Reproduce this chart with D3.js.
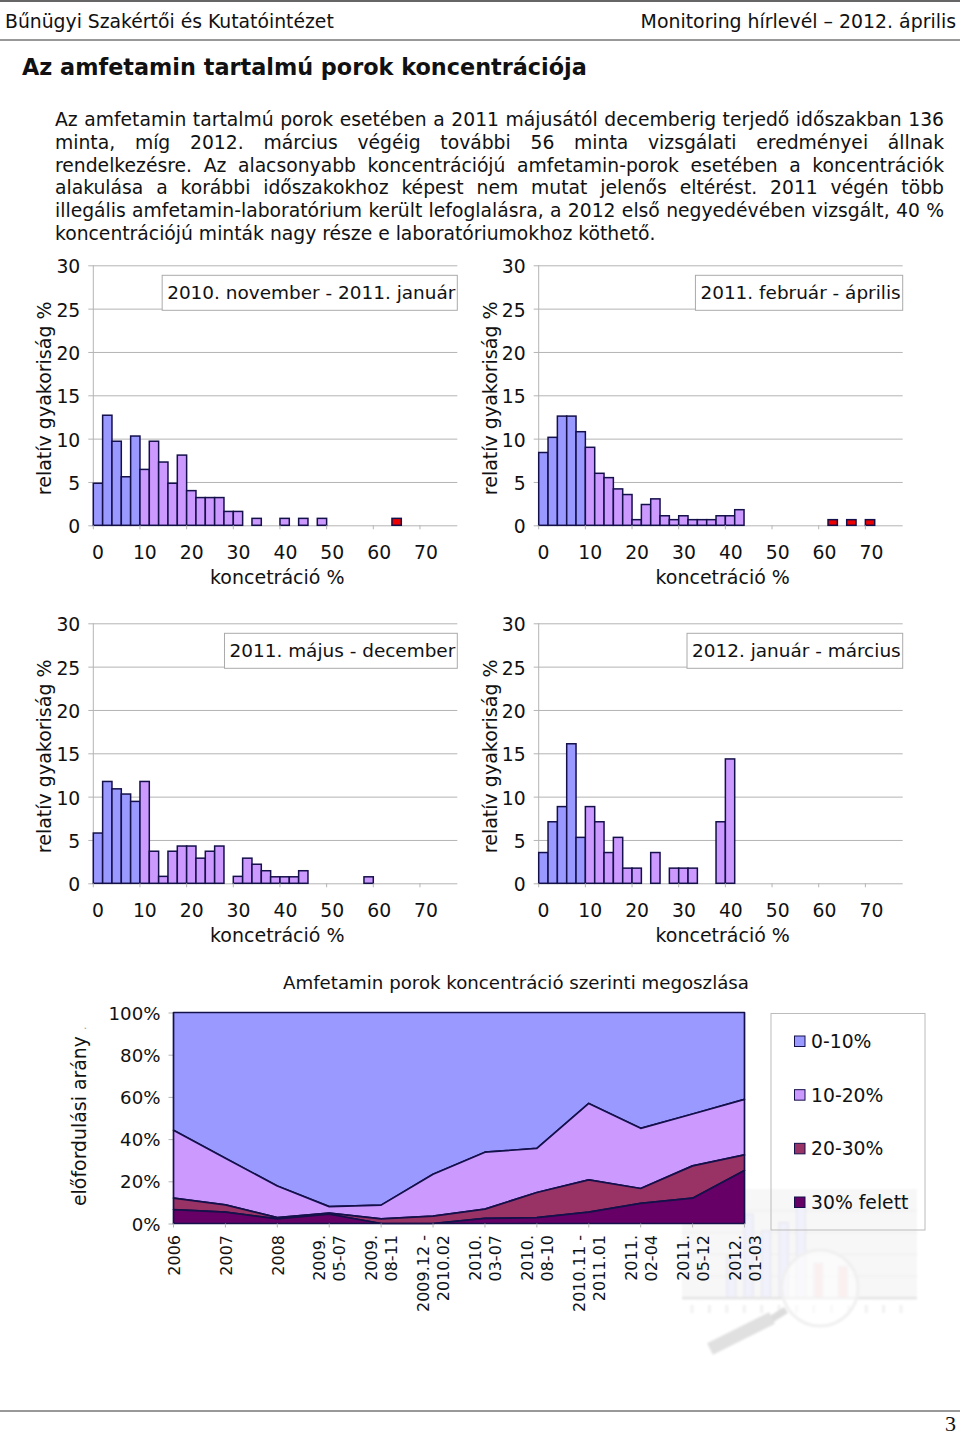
<!DOCTYPE html>
<html>
<head>
<meta charset="utf-8">
<script src="https://cdnjs.cloudflare.com/ajax/libs/d3/7.8.5/d3.min.js"></script>
<style>
  body { margin: 0; background: #fff; }
  svg { display: block; }
  text { font-family: "DejaVu Sans", Verdana, sans-serif; fill: #111; }
</style>
</head>
<body>
<svg id="page" width="960" height="1436">
  <defs><filter id="soft"><feGaussianBlur stdDeviation="0.8"></feGaussianBlur></filter></defs>
</svg>
<script>
var bodyLines = [
	'Az amfetamin tartalmú porok esetében a 2011 májusától decemberig terjedő időszakban 136',
	'minta, míg 2012. március végéig további 56 minta vizsgálati eredményei állnak',
	'rendelkezésre. Az alacsonyabb koncentrációjú amfetamin-porok esetében a koncentrációk',
	'alakulása a korábbi időszakokhoz képest nem mutat jelenős eltérést. 2011 végén több',
	'illegális amfetamin-laboratórium került lefoglalásra, a 2012 első negyedévében vizsgált, 40 %',
	'koncentrációjú minták nagy része e laboratóriumokhoz köthető.'
];

// histogram bins, each 2 units wide
var yTicks = [0, 5, 10, 15, 20, 25, 30];
var xTickLabels = [0, 10, 20, 30, 40, 50, 60, 70];

var hist2010 = [4.85, 12.7, 9.7, 5.6, 10.3, 6.45, 9.7, 7.3, 4.85, 8.1, 4.0, 3.2, 3.2, 3.2, 1.6, 1.6, 0, 0.8, 0, 0, 0.8, 0, 0.8, 0, 0.8, 0, 0, 0, 0, 0, 0, 0, 0.8, 0, 0, 0, 0, 0, 0];
var hist2011a = [8.4, 10.15, 12.6, 12.6, 10.8, 9.0, 6.0, 5.5, 4.2, 3.55, 0.65, 2.4, 3.05, 1.1, 0.65, 1.1, 0.65, 0.65, 0.65, 1.1, 1.1, 1.8, 0, 0, 0, 0, 0, 0, 0, 0, 0, 0.65, 0, 0.65, 0, 0.65, 0, 0, 0];
var hist2011b = [5.8, 11.75, 10.9, 10.3, 9.45, 11.75, 3.7, 0.8, 3.7, 4.3, 4.3, 2.9, 3.7, 4.3, 0, 0.8, 2.9, 2.2, 1.45, 0.75, 0.75, 0.75, 1.45, 0, 0, 0, 0, 0, 0, 0.75, 0, 0, 0, 0, 0, 0, 0, 0, 0];
var hist2012 = [3.55, 7.1, 8.85, 16.1, 5.3, 8.85, 7.1, 3.55, 5.3, 1.75, 1.75, 0, 3.55, 0, 1.75, 1.75, 1.75, 0, 0, 7.1, 14.35, 0, 0, 0, 0, 0, 0, 0, 0, 0, 0, 0, 0, 0, 0, 0, 0, 0, 0];

var histTitles = ['2010. november - 2011. január', '2011. február - április', '2011. május - december', '2012. január - március'];

// stacked area
var areaCategories = ['2006', '2007', '2008', '2009.|05-07', '2009.|08-11', '2009.12 -|2010.02', '2010.|03-07', '2010.|08-10', '2010.11 -|2011.01', '2011.|02-04', '2011.|05-12', '2012.|01-03'];
var over30 = [6.6, 5.4, 2.2, 4.4, 0, 0, 2.4, 2.8, 5.4, 9.5, 12, 25.1];
var from20to30 = [5.4, 3.4, 0.6, 0.5, 2.2, 3.5, 4.4, 11.9, 15.3, 7.1, 15.3, 7.4];
var from10to20 = [32.2, 22.1, 15, 3.1, 6.5, 19.8, 27, 20.9, 36.2, 28.5, 24.6, 26.3];
var from0to10 = [55.8, 69.1, 82.2, 92, 91.3, 76.7, 66.2, 64.4, 43.1, 54.9, 48.1, 41.2];
var areaTicks = [0, 20, 40, 60, 80, 100];
var legendLabels = ['0-10%', '10-20%', '20-30%', '30% felett'];

// faint picture behind the legend
var markPositions = [2, 3, 4, 5, 6, 7, 8.4];
var markValues = [9.6, 19.2, 15.4, 17.3, 21.2, 8, 7.3];

var BLUE = '#9999ff', PURPLE = '#cc99ff', WINE = '#993366', PLUM = '#660066', RED = '#ee0000', INK = '#14104a', GRID = '#b4b4b4';
var svg = d3.select('#page');

var drawWatermark = function() {
	var g = svg.append('g').attr('filter', 'url(#soft)');
	var x = d3.scaleLinear().domain([0, 12]).range([692, 901]);
	var y = d3.scaleLinear().domain([0, 25]).range([1298, 1189]);
	g.append('rect').attr('x', 682).attr('y', y(25)).attr('width', 235).attr('height', y(0) - y(25) + 2).attr('fill', '#f7f7f7');
	g.selectAll('line.grid').data([5, 10, 15, 20]).enter().append('line')
		.attr('x1', 682).attr('x2', 917).attr('y1', y).attr('y2', y).attr('stroke', '#ededed');
	g.selectAll('rect.bar').data(markPositions).enter().append('rect')
		.attr('x', function(d) { return x(d); })
		.attr('width', 9)
		.attr('y', function(d, i) { return y(markValues[i]); })
		.attr('height', function(d, i) { return y(0) - y(markValues[i]); })
		.attr('fill', function(d, i) { return i > 4 ? '#f6dede' : '#f1f1fb'; })
		.attr('stroke', '#e4e4ee');
	g.append('line').attr('x1', 682).attr('x2', 917).attr('y1', y(0)).attr('y2', y(0)).attr('stroke', '#e2e2e2').attr('stroke-width', 2);
	g.selectAll('line.tick').data(d3.range(13)).enter().append('line')
		.attr('x1', x).attr('x2', x).attr('y1', 1305).attr('y2', 1313).attr('stroke', '#f1f1f1').attr('stroke-width', 3);
	g.append('circle').attr('cx', 820).attr('cy', 1288).attr('r', 38)
		.attr('fill', '#fff').attr('fill-opacity', 0.55).attr('stroke', '#f0f0f0').attr('stroke-width', 3);
	g.append('line').attr('x1', 786).attr('y1', 1310).attr('x2', 770).attr('y2', 1320).attr('stroke', '#dcdcdc').attr('stroke-width', 7);
	g.append('line').attr('x1', 772).attr('y1', 1318).attr('x2', 710).attr('y2', 1349).attr('stroke', '#e0e0e0').attr('stroke-width', 13);
};

var drawHeader = function() {
	[1, 40, 1411].forEach(function(y, i) {
		svg.append('line').attr('x1', 0).attr('x2', 960).attr('y1', y).attr('y2', y)
			.attr('stroke', '#333').attr('stroke-width', i === 0 ? 1.5 : 1);
	});
	svg.append('text').attr('x', 5).attr('y', 28).attr('font-size', 18.8).text('Bűnügyi Szakértői és Kutatóintézet');
	svg.append('text').attr('x', 956).attr('y', 28).attr('font-size', 18.9).attr('text-anchor', 'end').text('Monitoring hírlevél – 2012. április');
	svg.append('text').attr('x', 22).attr('y', 75).attr('font-size', 22.35).attr('font-weight', 'bold').text('Az amfetamin tartalmú porok koncentrációja');
	svg.append('text').attr('x', 956).attr('y', 1431).attr('font-size', 22).attr('text-anchor', 'end')
		.style('font-family', '"Liberation Serif", serif').text('3');

	// justified paragraph: spread each line with word spacing
	bodyLines.forEach(function(line, i) {
		var t = svg.append('text').attr('x', 55).attr('y', 126 + i * 22.8).attr('font-size', 18.75).text(line);
		if (i < bodyLines.length - 1) {
			var gaps = line.split(' ').length - 1;
			t.attr('word-spacing', (889 - t.node().getComputedTextLength()) / gaps);
		}
	});
};

var drawHistogram = function(values, title, left, y0) {
	var right = left + 364;
	var g = svg.append('g');
	var x = d3.scaleBand().domain(d3.range(values.length)).range([left, right]);
	var y = d3.scaleLinear().domain([0, 30]).range([y0, y0 - 260]);

	var yAxis = d3.axisLeft(y).tickValues(yTicks).tickSize(-(right - left)).tickPadding(13);
	var ya = g.append('g').attr('transform', 'translate(' + left + ',0)').call(yAxis);
	ya.select('.domain').remove();
	ya.selectAll('.tick line').attr('stroke', GRID).attr('x1', -5);
	ya.selectAll('.tick text').attr('font-size', 18.8).attr('y', 1.5).attr('font-family', null).attr('fill', '#111');
	g.append('line').attr('x1', left).attr('x2', left).attr('y1', y(30)).attr('y2', y(0)).attr('stroke', GRID);

	var bins = values.map(function(v, i) { return { bin: i, value: v }; }).filter(function(d) { return d.value > 0; });
	g.selectAll('rect.bar').data(bins).enter().append('rect')
		.attr('class', 'bar')
		.attr('x', function(d) { return x(d.bin); })
		.attr('width', x.bandwidth())
		.attr('y', function(d) { return y(d.value); })
		.attr('height', function(d) { return y(0) - y(d.value); })
		.attr('fill', function(d) { return d.bin < 5 ? BLUE : (d.bin < 30 ? PURPLE : RED); })
		.attr('stroke', INK).attr('stroke-width', 1.5);

	// labels sit on the bin centre, tick marks on the bin edge
	var xa = g.append('g');
	xa.selectAll('line').data(xTickLabels).enter().append('line')
		.attr('x1', function(d) { return x(d / 2); }).attr('x2', function(d) { return x(d / 2); })
		.attr('y1', y(0)).attr('y2', y(0) + 4).attr('stroke', GRID);
	xa.selectAll('text').data(xTickLabels).enter().append('text')
		.attr('x', function(d) { return x(d / 2) + x.bandwidth() / 2 + d * 0.02; })
		.attr('y', y(0) + 34).attr('font-size', 18.8).attr('text-anchor', 'middle').text(function(d) { return d; });

	g.append('text').attr('x', left + 184).attr('y', y(0) + 59).attr('font-size', 19).attr('text-anchor', 'middle').text('koncetráció %');
	g.append('text').attr('font-size', 19).attr('text-anchor', 'middle')
		.attr('transform', 'translate(' + (left - 42) + ',' + (y(15) + 3) + ') rotate(-90)').text('relatív gyakoriság %');

	var box = g.append('g');
	var label = box.append('text').attr('y', y(30) + 34).attr('font-size', 18.45).attr('text-anchor', 'end').attr('x', right - 2).text(title);
	var w = label.node().getComputedTextLength();
	box.insert('rect', 'text').attr('x', right - w - 7).attr('y', y(30) + 10).attr('width', w + 7).attr('height', 35)
		.attr('fill', '#fff').attr('stroke', '#aaa');
};

var drawArea = function() {
	var g = svg.append('g');
	var x = d3.scalePoint().domain(d3.range(areaCategories.length)).range([173.5, 744.5]);
	var y = d3.scaleLinear().domain([0, 100]).range([1223.5, 1012.5]);

	var rows = areaCategories.map(function(c, i) {
		return { over30: over30[i], from20to30: from20to30[i], from10to20: from10to20[i], from0to10: from0to10[i], i: i };
	});
	var keys = ['over30', 'from20to30', 'from10to20', 'from0to10'];
	var colours = [PLUM, WINE, PURPLE, BLUE];
	var stack = d3.stack().keys(keys)(rows);
	var area = d3.area()
		.x(function(d) { return x(d.data.i); })
		.y0(function(d) { return y(d[0]); })
		.y1(function(d) { return y(d[1]); });

	var ya = g.append('g').attr('transform', 'translate(173.5,0)')
		.call(d3.axisLeft(y).tickValues(areaTicks).tickSize(5).tickPadding(8).tickFormat(function(d) { return d + '%'; }));
	ya.select('.domain').remove();
	ya.selectAll('.tick line').attr('stroke', GRID);
	ya.selectAll('.tick text').attr('font-size', 18.2).attr('y', 0.7).attr('font-family', null).attr('fill', '#111');

	g.selectAll('path.layer').data(stack.slice().reverse()).enter().append('path')
		.attr('d', area)
		.attr('fill', function(d) { return colours[d.index]; })
		.attr('stroke', INK).attr('stroke-width', 1.7).attr('stroke-linejoin', 'round');

	areaCategories.forEach(function(c, i) {
		g.append('line').attr('x1', x(i)).attr('x2', x(i)).attr('y1', y(0)).attr('y2', y(0) + 4).attr('stroke', GRID);
		var parts = c.split('|');
		parts.forEach(function(p, k) {
			var dx = parts.length === 1 ? 0.7 : (k === 0 ? -9.5 : 10.5);
			g.append('text').attr('font-size', 16).attr('text-anchor', 'end').attr('dy', '0.36em')
				.attr('transform', 'translate(' + (x(i) + dx) + ',1235) rotate(-90)').text(p);
		});
	});

	g.append('text').attr('x', 516).attr('y', 989).attr('font-size', 18.2).attr('text-anchor', 'middle').text('Amfetamin porok koncentráció szerinti megoszlása');
	var yl = g.append('text').attr('font-size', 18.9).attr('text-anchor', 'start')
		.attr('transform', 'translate(86,1206) rotate(-90)').text('előfordulási arány ');
	yl.append('tspan').attr('fill', '#999').attr('font-size', 11).text(' .');

	g.append('rect').attr('x', 771).attr('y', 1013.5).attr('width', 154).attr('height', 216.5)
		.attr('fill', 'none').attr('stroke', '#bbb');
	var ly = d3.scalePoint().domain(legendLabels).range([1041, 1202]);
	legendLabels.forEach(function(l, i) {
		g.append('rect').attr('x', 794.5).attr('y', ly(l) - 5).attr('width', 10.5).attr('height', 10.5)
			.attr('fill', [BLUE, PURPLE, WINE, PLUM][i]).attr('stroke', INK);
		g.append('text').attr('x', 811).attr('y', ly(l) + 7).attr('font-size', 18.8).text(l);
	});
};

drawWatermark();
drawHeader();
drawHistogram(hist2010, histTitles[0], 93.3, 525.3);
drawHistogram(hist2011a, histTitles[1], 538.7, 525.3);
drawHistogram(hist2011b, histTitles[2], 93.3, 883.3);
drawHistogram(hist2012, histTitles[3], 538.7, 883.3);
drawArea();
</script>
</body>
</html>
